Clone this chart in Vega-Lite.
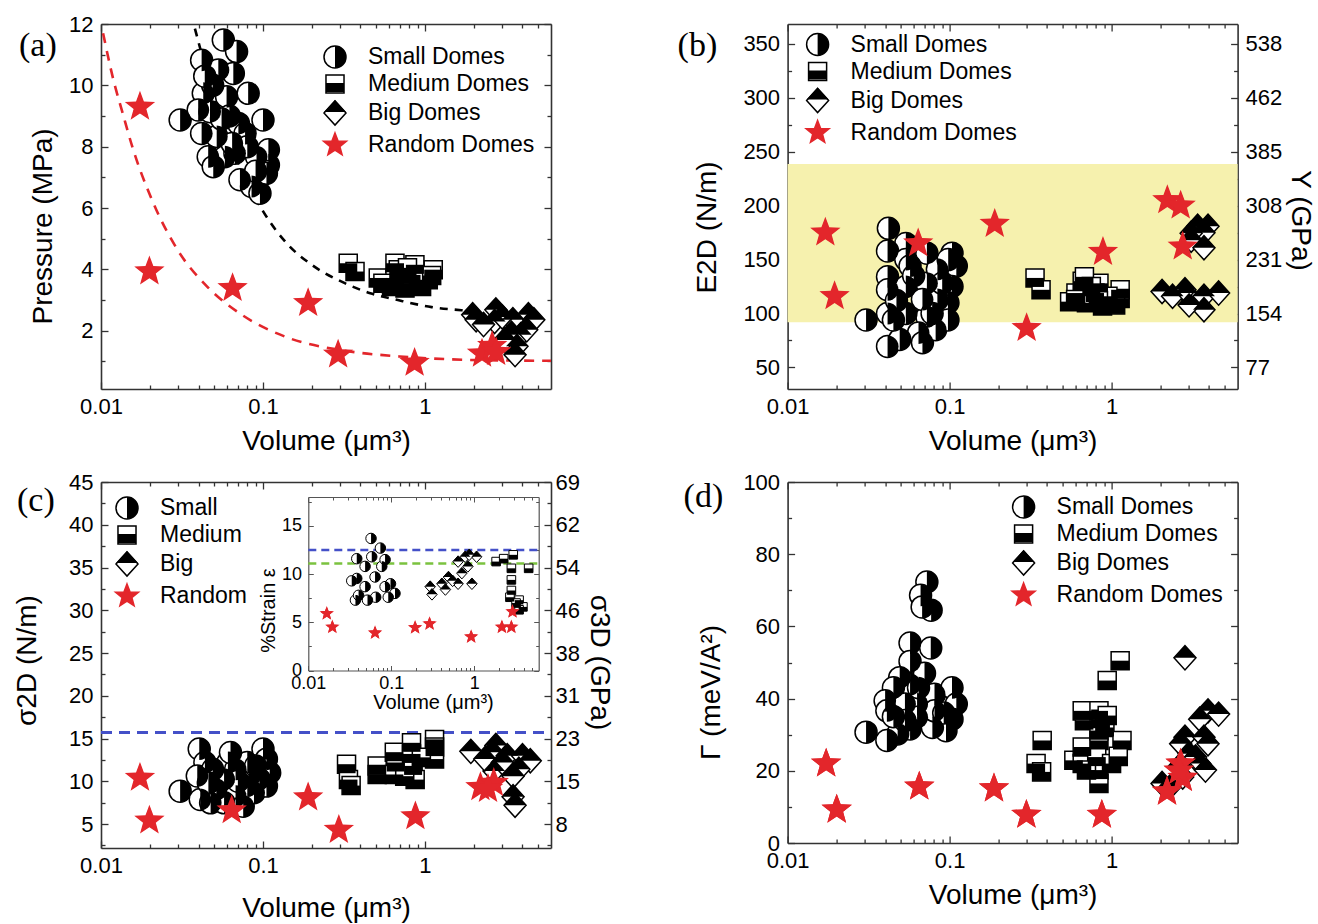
{
"$schema":"https://vega.github.io/schema/vega-lite/v6.json",
"background":"white",
"padding":{"left":13,"top":13,"right":5,"bottom":5},
"config":{
 "view":{"stroke":null},
 "font":"Liberation Sans",
 "axis":{"grid":false,"domainColor":"#333333","domainWidth":1.6,"tickColor":"#333333","tickWidth":1.3,"labelFont":"Liberation Sans","labelFontSize":22,"labelColor":"black","titleFont":"Liberation Sans","titleFontSize":28,"titleFontWeight":"normal","titleColor":"black","labelFlush":false,"labelOverlap":false},
 "legend":{"orient":"none","direction":"vertical","labelFont":"Liberation Sans","labelFontSize":23,"labelColor":"black","labelLimit":400,"symbolSize":484,"symbolStrokeWidth":1.5,"rowPadding":0,"labelOffset":21,"padding":0,"offset":0},
 "title":{"font":"Liberation Serif","fontSize":34,"fontWeight":"normal","anchor":"start","frame":"group","offset":0,"color":"black"}
},
"datasets":{
"fit":[
{"curve":"domes","vol":0.038,"val":11.85},{"curve":"domes","vol":0.05,"val":9.6},{"curve":"domes","vol":0.07,"val":7.5},{"curve":"domes","vol":0.1,"val":5.9},{"curve":"domes","vol":0.143,"val":4.8},{"curve":"domes","vol":0.2,"val":4.15},{"curve":"domes","vol":0.32,"val":3.55},{"curve":"domes","vol":0.46,"val":3.22},{"curve":"domes","vol":0.68,"val":3.0},{"curve":"domes","vol":1.1,"val":2.77},{"curve":"domes","vol":1.68,"val":2.67},{"curve":"domes","vol":1.95,"val":2.64},
{"curve":"random","vol":0.0103,"val":11.7},{"curve":"random","vol":0.0119,"val":10.2},{"curve":"random","vol":0.0136,"val":9.1},{"curve":"random","vol":0.0156,"val":8.0},{"curve":"random","vol":0.0205,"val":6.3},{"curve":"random","vol":0.03,"val":4.6},{"curve":"random","vol":0.046,"val":3.4},{"curve":"random","vol":0.075,"val":2.5},{"curve":"random","vol":0.143,"val":1.77},{"curve":"random","vol":0.31,"val":1.36},{"curve":"random","vol":0.7,"val":1.16},{"curve":"random","vol":1.4,"val":1.07},{"curve":"random","vol":3,"val":1.03},{"curve":"random","vol":6,"val":1.02}
],
"band":[{"lo":91.8,"hi":238.7,"from":0.01,"to":6}],
"refs":[{"which":"sigma","val":15.7,"from":0.01,"to":6},{"which":"blue","val":12.5,"from":0.01,"to":6},{"which":"green","val":11.1,"from":0.01,"to":6}],
"a":[
{"type":"Small Domes","vol":0.0569,"val":11.48},{"type":"Small Domes","vol":0.0687,"val":11.1},{"type":"Small Domes","vol":0.0418,"val":10.82},{"type":"Small Domes","vol":0.053,"val":10.5},{"type":"Small Domes","vol":0.0656,"val":10.39},{"type":"Small Domes","vol":0.0428,"val":9.74},{"type":"Small Domes","vol":0.0596,"val":9.63},{"type":"Small Domes","vol":0.081,"val":9.74},{"type":"Small Domes","vol":0.0308,"val":8.87},{"type":"Small Domes","vol":0.0398,"val":9.2},{"type":"Small Domes","vol":0.0471,"val":9.14},{"type":"Small Domes","vol":0.0705,"val":8.76},{"type":"Small Domes","vol":0.1,"val":8.87},{"type":"Small Domes","vol":0.0418,"val":8.43},{"type":"Small Domes","vol":0.0518,"val":8.33},{"type":"Small Domes","vol":0.0775,"val":8.43},{"type":"Small Domes","vol":0.0459,"val":7.67},{"type":"Small Domes","vol":0.0582,"val":7.67},{"type":"Small Domes","vol":0.0671,"val":7.79},{"type":"Small Domes","vol":0.0912,"val":7.67},{"type":"Small Domes","vol":0.0721,"val":6.92},{"type":"Small Domes","vol":0.085,"val":6.7},{"type":"Small Domes","vol":0.0958,"val":6.48},{"type":"Small Domes","vol":0.108,"val":7.4},{"type":"Small Domes","vol":0.0493,"val":7.35},{"type":"Small Domes","vol":0.105,"val":7.13},{"type":"Small Domes","vol":0.108,"val":7.9},{"type":"Small Domes","vol":0.0489,"val":10.0},{"type":"Small Domes","vol":0.062,"val":9.0},{"type":"Small Domes","vol":0.0437,"val":10.3},{"type":"Small Domes","vol":0.0645,"val":8.1},{"type":"Small Domes","vol":0.0555,"val":8.9},{"type":"Small Domes","vol":0.08,"val":8.0},{"type":"Small Domes","vol":0.09,"val":7.2},
{"type":"Medium Domes","vol":0.336,"val":4.2},{"type":"Medium Domes","vol":0.37,"val":3.93},{"type":"Medium Domes","vol":0.515,"val":3.72},{"type":"Medium Domes","vol":0.653,"val":4.2},{"type":"Medium Domes","vol":0.684,"val":3.99},{"type":"Medium Domes","vol":0.653,"val":3.72},{"type":"Medium Domes","vol":0.867,"val":4.15},{"type":"Medium Domes","vol":0.826,"val":3.82},{"type":"Medium Domes","vol":1.125,"val":3.99},{"type":"Medium Domes","vol":1.048,"val":3.66},{"type":"Medium Domes","vol":0.622,"val":3.44},{"type":"Medium Domes","vol":0.753,"val":3.39},{"type":"Medium Domes","vol":0.953,"val":3.44},{"type":"Medium Domes","vol":0.55,"val":3.55},{"type":"Medium Domes","vol":0.78,"val":4.05},{"type":"Medium Domes","vol":0.9,"val":3.6},{"type":"Medium Domes","vol":1.1,"val":3.8},{"type":"Medium Domes","vol":0.72,"val":3.55},
{"type":"Big Domes","vol":1.97,"val":2.52},{"type":"Big Domes","vol":2.74,"val":2.68},{"type":"Big Domes","vol":2.69,"val":2.3},{"type":"Big Domes","vol":4.35,"val":2.52},{"type":"Big Domes","vol":3.49,"val":2.36},{"type":"Big Domes","vol":3.42,"val":1.92},{"type":"Big Domes","vol":3.9,"val":1.87},{"type":"Big Domes","vol":3.7,"val":1.49},{"type":"Big Domes","vol":3.6,"val":1.22},{"type":"Big Domes","vol":2.07,"val":2.36},{"type":"Big Domes","vol":2.3,"val":2.2},{"type":"Big Domes","vol":4.7,"val":2.36},{"type":"Big Domes","vol":3.1,"val":1.7},{"type":"Big Domes","vol":4.25,"val":2.03},{"type":"Big Domes","vol":3.0,"val":2.45},
{"type":"Random Domes","vol":0.0174,"val":9.3},{"type":"Random Domes","vol":0.0199,"val":3.93},{"type":"Random Domes","vol":0.0649,"val":3.39},{"type":"Random Domes","vol":0.19,"val":2.9},{"type":"Random Domes","vol":0.291,"val":1.22},{"type":"Random Domes","vol":0.863,"val":0.95},{"type":"Random Domes","vol":2.25,"val":1.25},{"type":"Random Domes","vol":2.6,"val":1.5},{"type":"Random Domes","vol":2.75,"val":1.3}
],
"b":[
{"type":"Small Domes","vol":0.0419,"val":179},{"type":"Small Domes","vol":0.0537,"val":165},{"type":"Small Domes","vol":0.0414,"val":158},{"type":"Small Domes","vol":0.0414,"val":134},{"type":"Small Domes","vol":0.0414,"val":122},{"type":"Small Domes","vol":0.0537,"val":150},{"type":"Small Domes","vol":0.0537,"val":125},{"type":"Small Domes","vol":0.0724,"val":156},{"type":"Small Domes","vol":0.1035,"val":156},{"type":"Small Domes","vol":0.11,"val":144},{"type":"Small Domes","vol":0.1035,"val":125},{"type":"Small Domes","vol":0.0977,"val":110},{"type":"Small Domes","vol":0.0724,"val":128},{"type":"Small Domes","vol":0.0724,"val":97},{"type":"Small Domes","vol":0.0643,"val":82},{"type":"Small Domes","vol":0.068,"val":73},{"type":"Small Domes","vol":0.0414,"val":69.5},{"type":"Small Domes","vol":0.0492,"val":76},{"type":"Small Domes","vol":0.0305,"val":94},{"type":"Small Domes","vol":0.0414,"val":100},{"type":"Small Domes","vol":0.0537,"val":100},{"type":"Small Domes","vol":0.068,"val":113},{"type":"Small Domes","vol":0.0841,"val":113},{"type":"Small Domes","vol":0.082,"val":85},{"type":"Small Domes","vol":0.057,"val":144},{"type":"Small Domes","vol":0.0841,"val":141},{"type":"Small Domes","vol":0.045,"val":94},{"type":"Small Domes","vol":0.0977,"val":94},{"type":"Small Domes","vol":0.09,"val":128},{"type":"Small Domes","vol":0.098,"val":150},{"type":"Small Domes","vol":0.047,"val":112},{"type":"Small Domes","vol":0.06,"val":135},{"type":"Small Domes","vol":0.078,"val":100},
{"type":"Medium Domes","vol":0.337,"val":133},{"type":"Medium Domes","vol":0.367,"val":122},{"type":"Medium Domes","vol":0.603,"val":119},{"type":"Medium Domes","vol":0.659,"val":130},{"type":"Medium Domes","vol":0.836,"val":128},{"type":"Medium Domes","vol":0.79,"val":119},{"type":"Medium Domes","vol":1.13,"val":122},{"type":"Medium Domes","vol":1.13,"val":114},{"type":"Medium Domes","vol":0.7,"val":110},{"type":"Medium Domes","vol":0.88,"val":107},{"type":"Medium Domes","vol":1.06,"val":108},{"type":"Medium Domes","vol":0.551,"val":111},{"type":"Medium Domes","vol":0.68,"val":134},{"type":"Medium Domes","vol":0.75,"val":125},{"type":"Medium Domes","vol":0.95,"val":116},{"type":"Medium Domes","vol":0.6,"val":113},{"type":"Medium Domes","vol":0.83,"val":112},
{"type":"Big Domes","vol":2.05,"val":120.5},{"type":"Big Domes","vol":2.9,"val":119},{"type":"Big Domes","vol":3.72,"val":116},{"type":"Big Domes","vol":4.58,"val":119},{"type":"Big Domes","vol":3.72,"val":103.5},{"type":"Big Domes","vol":3.01,"val":108},{"type":"Big Domes","vol":2.38,"val":116},{"type":"Big Domes","vol":3.4,"val":181},{"type":"Big Domes","vol":3.94,"val":181},{"type":"Big Domes","vol":3.72,"val":175},{"type":"Big Domes","vol":3.1,"val":174.5},{"type":"Big Domes","vol":3.1,"val":168},{"type":"Big Domes","vol":3.72,"val":161},{"type":"Big Domes","vol":2.84,"val":122},
{"type":"Random Domes","vol":0.0171,"val":175},{"type":"Random Domes","vol":0.0195,"val":116},{"type":"Random Domes","vol":0.064,"val":165},{"type":"Random Domes","vol":0.19,"val":183},{"type":"Random Domes","vol":0.299,"val":86.5},{"type":"Random Domes","vol":0.885,"val":157},{"type":"Random Domes","vol":2.21,"val":205},{"type":"Random Domes","vol":2.67,"val":200},{"type":"Random Domes","vol":2.75,"val":162}
],
"c":[
{"type":"Small","vol":0.0308,"val":8.85},{"type":"Small","vol":0.0404,"val":13.77},{"type":"Small","vol":0.0438,"val":12.2},{"type":"Small","vol":0.0393,"val":10.62},{"type":"Small","vol":0.041,"val":7.87},{"type":"Small","vol":0.0475,"val":7.48},{"type":"Small","vol":0.0515,"val":9.05},{"type":"Small","vol":0.0607,"val":12.2},{"type":"Small","vol":0.0575,"val":10.23},{"type":"Small","vol":0.0677,"val":11.4},{"type":"Small","vol":0.08,"val":12.2},{"type":"Small","vol":0.1,"val":13.77},{"type":"Small","vol":0.105,"val":12.59},{"type":"Small","vol":0.11,"val":11.0},{"type":"Small","vol":0.095,"val":10.23},{"type":"Small","vol":0.08,"val":9.44},{"type":"Small","vol":0.0677,"val":8.26},{"type":"Small","vol":0.0575,"val":7.48},{"type":"Small","vol":0.0755,"val":7.08},{"type":"Small","vol":0.088,"val":8.66},{"type":"Small","vol":0.105,"val":9.44},{"type":"Small","vol":0.0489,"val":11.4},{"type":"Small","vol":0.063,"val":13.37},{"type":"Small","vol":0.082,"val":10.62},{"type":"Small","vol":0.046,"val":9.8},{"type":"Small","vol":0.07,"val":10.0},{"type":"Small","vol":0.09,"val":11.8},
{"type":"Medium","vol":0.328,"val":12.0},{"type":"Medium","vol":0.337,"val":10.2},{"type":"Medium","vol":0.35,"val":9.5},{"type":"Medium","vol":0.507,"val":11.8},{"type":"Medium","vol":0.507,"val":10.8},{"type":"Medium","vol":0.647,"val":13.4},{"type":"Medium","vol":0.66,"val":12.2},{"type":"Medium","vol":0.647,"val":10.8},{"type":"Medium","vol":0.826,"val":14.5},{"type":"Medium","vol":0.826,"val":13.2},{"type":"Medium","vol":0.845,"val":11.8},{"type":"Medium","vol":0.87,"val":10.2},{"type":"Medium","vol":1.146,"val":14.9},{"type":"Medium","vol":1.146,"val":14.0},{"type":"Medium","vol":1.146,"val":12.6},{"type":"Medium","vol":0.75,"val":10.6},{"type":"Medium","vol":0.95,"val":12.8},
{"type":"Big","vol":1.92,"val":13.5},{"type":"Big","vol":2.74,"val":14.2},{"type":"Big","vol":2.6,"val":13.4},{"type":"Big","vol":3.22,"val":13.0},{"type":"Big","vol":4.0,"val":13.0},{"type":"Big","vol":4.47,"val":12.4},{"type":"Big","vol":3.8,"val":11.4},{"type":"Big","vol":3.5,"val":10.6},{"type":"Big","vol":2.67,"val":11.2},{"type":"Big","vol":3.5,"val":8.2},{"type":"Big","vol":3.6,"val":7.2},{"type":"Big","vol":2.34,"val":12.6},{"type":"Big","vol":3.0,"val":12.2},
{"type":"Random","vol":0.0174,"val":10.4},{"type":"Random","vol":0.0199,"val":5.4},{"type":"Random","vol":0.0641,"val":6.6},{"type":"Random","vol":0.19,"val":8.1},{"type":"Random","vol":0.294,"val":4.3},{"type":"Random","vol":0.873,"val":5.9},{"type":"Random","vol":2.2,"val":9.3},{"type":"Random","vol":2.66,"val":9.8},{"type":"Random","vol":2.45,"val":9.1}
],
"ins":[
{"type":"Small","vol":0.0571,"val":13.7},{"type":"Small","vol":0.0384,"val":11.6},{"type":"Small","vol":0.0384,"val":9.55},{"type":"Small","vol":0.037,"val":7.3},{"type":"Small","vol":0.0334,"val":9.3},{"type":"Small","vol":0.0484,"val":10.8},{"type":"Small","vol":0.0484,"val":8.7},{"type":"Small","vol":0.0582,"val":11.8},{"type":"Small","vol":0.0638,"val":9.7},{"type":"Small","vol":0.065,"val":7.6},{"type":"Small","vol":0.0769,"val":10.8},{"type":"Small","vol":0.0843,"val":8.7},{"type":"Small","vol":0.098,"val":9.0},{"type":"Small","vol":0.111,"val":8.0},{"type":"Small","vol":0.092,"val":7.6},{"type":"Small","vol":0.0404,"val":7.8},{"type":"Small","vol":0.0517,"val":7.3},{"type":"Small","vol":0.074,"val":12.7},{"type":"Small","vol":0.0843,"val":11.5},
{"type":"Medium","vol":1.84,"val":11.3},{"type":"Medium","vol":2.27,"val":11.6},{"type":"Medium","vol":2.96,"val":12.0},{"type":"Medium","vol":2.81,"val":10.6},{"type":"Medium","vol":2.81,"val":9.4},{"type":"Medium","vol":2.81,"val":8.3},{"type":"Medium","vol":2.7,"val":7.6},{"type":"Medium","vol":3.48,"val":7.3},{"type":"Medium","vol":3.87,"val":6.6},{"type":"Medium","vol":4.54,"val":10.6},{"type":"Medium","vol":3.48,"val":6.3},{"type":"Medium","vol":3.2,"val":7.0},
{"type":"Big","vol":0.295,"val":8.7},{"type":"Big","vol":0.31,"val":7.9},{"type":"Big","vol":0.408,"val":9.0},{"type":"Big","vol":0.49,"val":9.7},{"type":"Big","vol":0.711,"val":10.1},{"type":"Big","vol":0.78,"val":11.8},{"type":"Big","vol":0.84,"val":10.8},{"type":"Big","vol":0.64,"val":9.0},{"type":"Big","vol":0.94,"val":9.0},{"type":"Big","vol":1.07,"val":11.8},{"type":"Big","vol":0.87,"val":12.0},{"type":"Big","vol":0.45,"val":8.4},{"type":"Big","vol":0.64,"val":11.3},{"type":"Big","vol":0.55,"val":9.3},
{"type":"Random","vol":0.0167,"val":5.9},{"type":"Random","vol":0.0195,"val":4.5},{"type":"Random","vol":0.0638,"val":3.9},{"type":"Random","vol":0.194,"val":4.45},{"type":"Random","vol":0.29,"val":4.85},{"type":"Random","vol":0.92,"val":3.5},{"type":"Random","vol":2.16,"val":4.5},{"type":"Random","vol":2.81,"val":4.5},{"type":"Random","vol":2.9,"val":6.1}
],
"d":[
{"type":"Small Domes","vol":0.0724,"val":72.3},{"type":"Small Domes","vol":0.0662,"val":68.6},{"type":"Small Domes","vol":0.0769,"val":64.5},{"type":"Small Domes","vol":0.0677,"val":65.4},{"type":"Small Domes","vol":0.057,"val":55.4},{"type":"Small Domes","vol":0.0765,"val":54},{"type":"Small Domes","vol":0.057,"val":50.3},{"type":"Small Domes","vol":0.0492,"val":45.8},{"type":"Small Domes","vol":0.057,"val":43.9},{"type":"Small Domes","vol":0.045,"val":43},{"type":"Small Domes","vol":0.04,"val":39.4},{"type":"Small Domes","vol":0.041,"val":36.6},{"type":"Small Domes","vol":0.053,"val":38.5},{"type":"Small Domes","vol":0.063,"val":38.5},{"type":"Small Domes","vol":0.063,"val":34.8},{"type":"Small Domes","vol":0.0807,"val":41.2},{"type":"Small Domes","vol":0.1035,"val":43},{"type":"Small Domes","vol":0.11,"val":38.5},{"type":"Small Domes","vol":0.1035,"val":34.3},{"type":"Small Domes","vol":0.095,"val":31.1},{"type":"Small Domes","vol":0.0783,"val":32},{"type":"Small Domes","vol":0.057,"val":31.6},{"type":"Small Domes","vol":0.0478,"val":30.2},{"type":"Small Domes","vol":0.041,"val":28.4},{"type":"Small Domes","vol":0.0305,"val":30.7},{"type":"Small Domes","vol":0.053,"val":33.9},{"type":"Small Domes","vol":0.0807,"val":36.6},{"type":"Small Domes","vol":0.0643,"val":43},{"type":"Small Domes","vol":0.045,"val":35},{"type":"Small Domes","vol":0.07,"val":47},{"type":"Small Domes","vol":0.092,"val":36},
{"type":"Medium Domes","vol":0.373,"val":28.4},{"type":"Medium Domes","vol":0.342,"val":22},{"type":"Medium Domes","vol":0.37,"val":19.7},{"type":"Medium Domes","vol":0.585,"val":22.9},{"type":"Medium Domes","vol":0.659,"val":22},{"type":"Medium Domes","vol":0.659,"val":26.6},{"type":"Medium Domes","vol":0.68,"val":33.9},{"type":"Medium Domes","vol":0.659,"val":36.6},{"type":"Medium Domes","vol":0.836,"val":36.6},{"type":"Medium Domes","vol":0.86,"val":34.3},{"type":"Medium Domes","vol":0.836,"val":31.1},{"type":"Medium Domes","vol":0.836,"val":28.4},{"type":"Medium Domes","vol":0.81,"val":23.8},{"type":"Medium Domes","vol":0.836,"val":20.2},{"type":"Medium Domes","vol":0.836,"val":16.5},{"type":"Medium Domes","vol":0.91,"val":32},{"type":"Medium Domes","vol":0.94,"val":45},{"type":"Medium Domes","vol":1.13,"val":50.5},{"type":"Medium Domes","vol":1.16,"val":28.4},{"type":"Medium Domes","vol":1.0,"val":22},{"type":"Medium Domes","vol":0.7,"val":20.2},{"type":"Medium Domes","vol":0.94,"val":35.3},{"type":"Medium Domes","vol":1.1,"val":24},
{"type":"Big Domes","vol":2.84,"val":51.3},{"type":"Big Domes","vol":3.94,"val":36.6},{"type":"Big Domes","vol":4.58,"val":35.7},{"type":"Big Domes","vol":3.5,"val":34.3},{"type":"Big Domes","vol":2.84,"val":29.3},{"type":"Big Domes","vol":2.67,"val":27.5},{"type":"Big Domes","vol":3.72,"val":29.3},{"type":"Big Domes","vol":3.94,"val":27.5},{"type":"Big Domes","vol":3.01,"val":24.7},{"type":"Big Domes","vol":2.6,"val":21.1},{"type":"Big Domes","vol":3.5,"val":22},{"type":"Big Domes","vol":3.8,"val":20.2},{"type":"Big Domes","vol":2.05,"val":16.5},{"type":"Big Domes","vol":2.3,"val":15.6},{"type":"Big Domes","vol":2.75,"val":18.3},{"type":"Big Domes","vol":3.3,"val":23.8},
{"type":"Random Domes","vol":0.0173,"val":22},{"type":"Random Domes","vol":0.0201,"val":9.2},{"type":"Random Domes","vol":0.065,"val":15.6},{"type":"Random Domes","vol":0.188,"val":15.1},{"type":"Random Domes","vol":0.298,"val":7.8},{"type":"Random Domes","vol":0.871,"val":7.8},{"type":"Random Domes","vol":2.2,"val":14.2},{"type":"Random Domes","vol":2.67,"val":22},{"type":"Random Domes","vol":2.75,"val":18},{"type":"Random Domes","vol":2.6,"val":20}
]
},
"columns":2,
"bounds":"flush",
"spacing":{"row":93,"column":236.6},
"concat":[
{
 "width":450,"height":365,
 "title":{"text":"(a)","dx":-82,"dy":54},
 "layer":[
  {"data":{"name":"fit"},"transform":[{"filter":"datum.curve === 'domes'"}],
   "mark":{"type":"line","color":"black","strokeWidth":2.6,"strokeDash":[8,7],"interpolate":"monotone","clip":true},
   "encoding":{
    "x":{"field":"vol","type":"quantitative","scale":{"type":"log","domain":[0.01,6],"nice":false},"axis":{"orient":"bottom","values":[0.01,0.1,1],"format":"~g","tickSize":-7,"labelPadding":14,"title":"Volume (μm³)","titlePadding":10}},
    "y":{"field":"val","type":"quantitative","scale":{"domain":[0.1,12],"nice":false,"zero":false},"axis":{"orient":"left","values":[2,4,6,8,10,12],"tickSize":-7,"labelPadding":15,"title":"Pressure (MPa)","titlePadding":11,"titleY":202}}}},
  {"data":{"name":"fit"},"transform":[{"filter":"datum.curve === 'random'"}],
   "mark":{"type":"line","color":"#e3262b","strokeWidth":2.6,"strokeDash":[10,8],"interpolate":"monotone","clip":true},
   "encoding":{
    "x":{"field":"vol","type":"quantitative","scale":{"type":"log","domain":[0.01,6],"nice":false},"axis":{"orient":"bottom","values":[0.02,0.03,0.04,0.05,0.06,0.07,0.08,0.09,0.2,0.3,0.4,0.5,0.6,0.7,0.8,0.9,2,3,4,5],"labels":false,"tickSize":-4,"domain":false,"title":null}},
    "y":{"field":"val","type":"quantitative","scale":{"domain":[0.1,12],"nice":false,"zero":false},"axis":{"orient":"left","values":[1,3,5,7,9,11],"labels":false,"tickSize":-4,"domain":false,"title":null}}}},
  {"data":{"name":"a"},
   "mark":{"type":"point","filled":true,"size":484,"strokeWidth":1.5,"opacity":1},
   "encoding":{
    "x":{"field":"vol","type":"quantitative","scale":{"type":"log","domain":[0.01,6],"nice":false},"axis":{"orient":"top","values":[0.01,0.1,1],"labels":false,"tickSize":-7,"title":null}},
    "y":{"field":"val","type":"quantitative","scale":{"domain":[0.1,12],"nice":false,"zero":false},"axis":{"orient":"right","values":[2,4,6,8,10,12],"labels":false,"tickSize":-7,"title":null}},
    "shape":{"field":"type","type":"nominal","scale":{"domain":["Small Domes","Medium Domes","Big Domes","Random Domes"],"range":["circle","M-0.82,-0.82L0.82,-0.82L0.82,0.82L-0.82,0.82Z","M-1,0L0,-1.1L1,0L0,1.1Z","M0,-1.1L0.271,-0.374L1.046,-0.34L0.439,0.143L0.647,0.89L0,0.462L-0.647,0.89L-0.439,0.143L-1.046,-0.34L-0.271,-0.374Z"]},"legend":{"legendX":222,"legendY":21,"title":null}},
    "fill":{"field":"type","type":"nominal","scale":{"domain":["Small Domes","Medium Domes","Big Domes","Random Domes"],"range":["white","white","white","#e3262b"]},"legend":{"legendX":222,"legendY":21,"title":null}},
    "stroke":{"field":"type","type":"nominal","scale":{"domain":["Small Domes","Medium Domes","Big Domes","Random Domes"],"range":["black","black","black","#e3262b"]},"legend":{"legendX":222,"legendY":21,"title":null}}}},
  {"data":{"name":"a"},"transform":[{"filter":"datum.type !== 'Random Domes'"}],
   "mark":{"type":"point","filled":true,"size":484,"color":"black","opacity":1},
   "encoding":{
    "x":{"field":"vol","type":"quantitative","scale":{"type":"log","domain":[0.01,6],"nice":false},"axis":{"orient":"top","values":[0.02,0.03,0.04,0.05,0.06,0.07,0.08,0.09,0.2,0.3,0.4,0.5,0.6,0.7,0.8,0.9,2,3,4,5],"labels":false,"tickSize":-4,"domain":false,"title":null}},
    "y":{"field":"val","type":"quantitative","scale":{"domain":[0.1,12],"nice":false,"zero":false},"axis":{"orient":"right","values":[1,3,5,7,9,11],"labels":false,"tickSize":-4,"domain":false,"title":null}},
    "shape":{"field":"type","type":"nominal","scale":{"domain":["Small Domes","Medium Domes","Big Domes"],"range":["M0,-1L0.259,-0.966L0.5,-0.866L0.707,-0.707L0.866,-0.5L0.966,-0.259L1,0L0.966,0.259L0.866,0.5L0.707,0.707L0.5,0.866L0.259,0.966L0,1Z","M-0.82,0L0.82,0L0.82,0.82L-0.82,0.82Z","M-1,0L0,-1.1L1,0Z"]},"legend":{"legendX":222,"legendY":21,"title":null,"symbolFillColor":"black","symbolStrokeColor":"transparent","labelOpacity":0}}}},
  {"data":{"name":"a"},"transform":[{"filter":"datum.type === 'Random Domes'"}],
   "mark":{"type":"point","filled":true,"size":484,"shape":"M0,-1.45L0.358,-0.493L1.379,-0.449L0.579,0.189L0.853,1.174L0,0.609L-0.853,1.174L-0.579,0.189L-1.379,-0.449L-0.358,-0.493Z","color":"#e3262b","opacity":1},
   "encoding":{
    "x":{"field":"vol","type":"quantitative","scale":{"type":"log","domain":[0.01,6],"nice":false},"axis":null},
    "y":{"field":"val","type":"quantitative","scale":{"domain":[0.1,12],"nice":false,"zero":false},"axis":null}}}
 ],
 "resolve":{"scale":{"shape":"independent","fill":"independent","stroke":"independent"},"legend":{"shape":"independent","fill":"independent","stroke":"independent"},"axis":{"x":"independent","y":"independent"}}
},
{
 "width":450,"height":365,
 "title":{"text":"(b)","dx":-110,"dy":44},
 "layer":[
  {"data":{"name":"band"},
   "mark":{"type":"rect","color":"#f6f1ae","opacity":1},
   "encoding":{
    "x":{"field":"from","type":"quantitative","scale":{"type":"log","domain":[0.01,6],"nice":false},"axis":{"orient":"bottom","values":[0.01,0.1,1],"format":"~g","tickSize":-7,"labelPadding":14,"title":"Volume (μm³)","titlePadding":10}},
    "x2":{"field":"to"},
    "y":{"field":"lo","type":"quantitative","scale":{"domain":[30,368.5],"nice":false,"zero":false},"axis":{"orient":"left","values":[50,100,150,200,250,300,350],"tickSize":-7,"labelPadding":15,"title":"E2D (N/m)","titlePadding":21,"titleY":203}},
    "y2":{"field":"hi"}}},
  {"data":{"name":"b"},
   "mark":{"type":"point","filled":true,"size":484,"strokeWidth":1.5,"opacity":1},
   "encoding":{
    "x":{"field":"vol","type":"quantitative","scale":{"type":"log","domain":[0.01,6],"nice":false},"axis":{"orient":"bottom","values":[0.02,0.03,0.04,0.05,0.06,0.07,0.08,0.09,0.2,0.3,0.4,0.5,0.6,0.7,0.8,0.9,2,3,4,5],"labels":false,"tickSize":-4,"domain":false,"title":null}},
    "y":{"field":"val","type":"quantitative","scale":{"domain":[30,368.5],"nice":false,"zero":false},"axis":{"orient":"left","values":[75,125,175,225,275,325],"labels":false,"tickSize":-4,"domain":false,"title":null}},
    "shape":{"field":"type","type":"nominal","scale":{"domain":["Small Domes","Medium Domes","Big Domes","Random Domes"],"range":["circle","M-0.82,-0.82L0.82,-0.82L0.82,0.82L-0.82,0.82Z","M-1,0L0,-1.1L1,0L0,1.1Z","M0,-1.1L0.271,-0.374L1.046,-0.34L0.439,0.143L0.647,0.89L0,0.462L-0.647,0.89L-0.439,0.143L-1.046,-0.34L-0.271,-0.374Z"]},"legend":{"legendX":18,"legendY":8.5,"title":null}},
    "fill":{"field":"type","type":"nominal","scale":{"domain":["Small Domes","Medium Domes","Big Domes","Random Domes"],"range":["white","white","white","#e3262b"]},"legend":{"legendX":18,"legendY":8.5,"title":null}},
    "stroke":{"field":"type","type":"nominal","scale":{"domain":["Small Domes","Medium Domes","Big Domes","Random Domes"],"range":["black","black","black","#e3262b"]},"legend":{"legendX":18,"legendY":8.5,"title":null}}}},
  {"data":{"name":"b"},"transform":[{"filter":"datum.type !== 'Random Domes'"}],
   "mark":{"type":"point","filled":true,"size":484,"color":"black","opacity":1},
   "encoding":{
    "x":{"field":"vol","type":"quantitative","scale":{"type":"log","domain":[0.01,6],"nice":false},"axis":{"orient":"top","values":[0.01,0.1,1],"labels":false,"tickSize":-7,"title":null}},
    "y":{"field":"val","type":"quantitative","scale":{"domain":[30,368.5],"nice":false,"zero":false},"axis":{"orient":"right","values":[50,100,150,200,250,300,350],"tickSize":-7,"labelPadding":14.4,"labelExpr":"format(datum.value*1.5385,'.0f')","title":"Y (GPa)","titlePadding":4,"titleY":196}},
    "shape":{"field":"type","type":"nominal","scale":{"domain":["Small Domes","Medium Domes","Big Domes"],"range":["M0,-1L0.259,-0.966L0.5,-0.866L0.707,-0.707L0.866,-0.5L0.966,-0.259L1,0L0.966,0.259L0.866,0.5L0.707,0.707L0.5,0.866L0.259,0.966L0,1Z","M-0.82,0L0.82,0L0.82,0.82L-0.82,0.82Z","M-1,0L0,-1.1L1,0Z"]},"legend":{"legendX":18,"legendY":8.5,"title":null,"symbolFillColor":"black","symbolStrokeColor":"transparent","labelOpacity":0}}}},
  {"data":{"name":"b"},"transform":[{"filter":"datum.type === 'Random Domes'"}],
   "mark":{"type":"point","filled":true,"size":484,"shape":"M0,-1.45L0.358,-0.493L1.379,-0.449L0.579,0.189L0.853,1.174L0,0.609L-0.853,1.174L-0.579,0.189L-1.379,-0.449L-0.358,-0.493Z","color":"#e3262b","opacity":1},
   "encoding":{
    "x":{"field":"vol","type":"quantitative","scale":{"type":"log","domain":[0.01,6],"nice":false},"axis":{"orient":"top","values":[0.02,0.03,0.04,0.05,0.06,0.07,0.08,0.09,0.2,0.3,0.4,0.5,0.6,0.7,0.8,0.9,2,3,4,5],"labels":false,"tickSize":-4,"domain":false,"title":null}},
    "y":{"field":"val","type":"quantitative","scale":{"domain":[30,368.5],"nice":false,"zero":false},"axis":{"orient":"right","values":[75,125,175,225,275,325],"labels":false,"tickSize":-4,"domain":false,"title":null}}}}
 ],
 "resolve":{"scale":{"shape":"independent","fill":"independent","stroke":"independent"},"legend":{"shape":"independent","fill":"independent","stroke":"independent"},"axis":{"x":"independent","y":"independent"}}
},
{
 "width":450,"height":366,
 "title":{"text":"(c)","dx":-84,"dy":51},
 "layer":[
  {
   "layer":[
    {"data":{"name":"refs"},"transform":[{"filter":"datum.which === 'sigma'"}],
     "mark":{"type":"rule","color":"#4450c8","strokeWidth":3,"strokeDash":[11,7]},
     "encoding":{
      "x":{"field":"from","type":"quantitative","scale":{"type":"log","domain":[0.01,6],"nice":false},"axis":{"orient":"bottom","values":[0.01,0.1,1],"format":"~g","tickSize":-7,"labelPadding":14,"title":"Volume (μm³)","titlePadding":18}},
      "x2":{"field":"to"},
      "y":{"field":"val","type":"quantitative","scale":{"domain":[2.2,45],"nice":false,"zero":false},"axis":{"orient":"left","values":[5,10,15,20,25,30,35,40,45],"tickSize":-7,"labelPadding":15,"title":"σ2D (N/m)","titlePadding":27,"titleY":178}}}},
    {"data":{"name":"c"},
     "mark":{"type":"point","filled":true,"size":484,"strokeWidth":1.5,"opacity":1},
     "encoding":{
      "x":{"field":"vol","type":"quantitative","scale":{"type":"log","domain":[0.01,6],"nice":false},"axis":{"orient":"bottom","values":[0.02,0.03,0.04,0.05,0.06,0.07,0.08,0.09,0.2,0.3,0.4,0.5,0.6,0.7,0.8,0.9,2,3,4,5],"labels":false,"tickSize":-4,"domain":false,"title":null}},
      "y":{"field":"val","type":"quantitative","scale":{"domain":[2.2,45],"nice":false,"zero":false},"axis":{"orient":"left","values":[2.5,7.5,12.5,17.5,22.5,27.5,32.5,37.5,42.5],"labels":false,"tickSize":-4,"domain":false,"title":null}},
      "shape":{"field":"type","type":"nominal","scale":{"domain":["Small","Medium","Big","Random"],"range":["circle","M-0.82,-0.82L0.82,-0.82L0.82,0.82L-0.82,0.82Z","M-1,0L0,-1.1L1,0L0,1.1Z","M0,-1.1L0.271,-0.374L1.046,-0.34L0.439,0.143L0.647,0.89L0,0.462L-0.647,0.89L-0.439,0.143L-1.046,-0.34L-0.271,-0.374Z"]},"legend":{"legendX":14,"legendY":14,"title":null}},
      "fill":{"field":"type","type":"nominal","scale":{"domain":["Small","Medium","Big","Random"],"range":["white","white","white","#e3262b"]},"legend":{"legendX":14,"legendY":14,"title":null}},
      "stroke":{"field":"type","type":"nominal","scale":{"domain":["Small","Medium","Big","Random"],"range":["black","black","black","#e3262b"]},"legend":{"legendX":14,"legendY":14,"title":null}}}},
    {"data":{"name":"c"},"transform":[{"filter":"datum.type !== 'Random'"}],
     "mark":{"type":"point","filled":true,"size":484,"color":"black","opacity":1},
     "encoding":{
      "x":{"field":"vol","type":"quantitative","scale":{"type":"log","domain":[0.01,6],"nice":false},"axis":{"orient":"top","values":[0.01,0.1,1],"labels":false,"tickSize":-7,"title":null}},
      "y":{"field":"val","type":"quantitative","scale":{"domain":[2.2,45],"nice":false,"zero":false},"axis":{"orient":"right","values":[5,10,15,20,25,30,35,40,45],"tickSize":-7,"labelPadding":11,"labelExpr":"format(datum.value*1.5385,'.0f')","title":"σ3D (GPa)","titlePadding":5,"titleY":180}},
      "shape":{"field":"type","type":"nominal","scale":{"domain":["Small","Medium","Big"],"range":["M0,-1L0.259,-0.966L0.5,-0.866L0.707,-0.707L0.866,-0.5L0.966,-0.259L1,0L0.966,0.259L0.866,0.5L0.707,0.707L0.5,0.866L0.259,0.966L0,1Z","M-0.82,0L0.82,0L0.82,0.82L-0.82,0.82Z","M-1,0L0,-1.1L1,0Z"]},"legend":{"legendX":14,"legendY":14,"title":null,"symbolFillColor":"black","symbolStrokeColor":"transparent","labelOpacity":0}}}},
    {"data":{"name":"c"},"transform":[{"filter":"datum.type === 'Random'"}],
     "mark":{"type":"point","filled":true,"size":484,"shape":"M0,-1.45L0.358,-0.493L1.379,-0.449L0.579,0.189L0.853,1.174L0,0.609L-0.853,1.174L-0.579,0.189L-1.379,-0.449L-0.358,-0.493Z","color":"#e3262b","opacity":1},
     "encoding":{
      "x":{"field":"vol","type":"quantitative","scale":{"type":"log","domain":[0.01,6],"nice":false},"axis":{"orient":"top","values":[0.02,0.03,0.04,0.05,0.06,0.07,0.08,0.09,0.2,0.3,0.4,0.5,0.6,0.7,0.8,0.9,2,3,4,5],"labels":false,"tickSize":-4,"domain":false,"title":null}},
      "y":{"field":"val","type":"quantitative","scale":{"domain":[2.2,45],"nice":false,"zero":false},"axis":{"orient":"right","values":[2.5,7.5,12.5,17.5,22.5,27.5,32.5,37.5,42.5],"labels":false,"tickSize":-4,"domain":false,"title":null}}}}
   ],
   "resolve":{"scale":{"shape":"independent","fill":"independent","stroke":"independent"},"legend":{"shape":"independent","fill":"independent","stroke":"independent"},"axis":{"x":"independent","y":"independent"}}
  },
  {
   "layer":[
    {"data":{"name":"refs"},"transform":[{"filter":"datum.which === 'blue'"}],
     "mark":{"type":"rule","color":"#4450c8","strokeWidth":2.5,"strokeDash":[8,5]},
     "encoding":{
      "x":{"field":"from","type":"quantitative","scale":{"type":"log","domain":[0.01,6],"nice":false,"range":[207.3,437.7]},"axis":{"orient":"bottom","offset":-177.5,"values":[0.01,0.1,1],"format":"~g","tickSize":-5,"labelFontSize":18,"labelPadding":8.6,"title":"Volume (μm³)","titleFontSize":20,"titlePadding":0,"titleX":332,"domainColor":"#555555","domainWidth":1.2,"tickColor":"#555555","tickWidth":1}},
      "x2":{"field":"to"},
      "y":{"field":"val","type":"quantitative","scale":{"domain":[0,18],"nice":false,"zero":false,"range":[188.5,15]},"axis":{"orient":"left","offset":-207.3,"values":[0,5,10,15],"tickSize":-5,"labelFontSize":18,"labelPadding":11.7,"title":"%Strain ε","titleFontSize":20,"titlePadding":3,"titleY":128,"domainColor":"#555555","domainWidth":1.2,"tickColor":"#555555","tickWidth":1}}}},
    {"data":{"name":"refs"},"transform":[{"filter":"datum.which === 'green'"}],
     "mark":{"type":"rule","color":"#7bc23f","strokeWidth":2.5,"strokeDash":[8,5]},
     "encoding":{
      "x":{"field":"from","type":"quantitative","scale":{"type":"log","domain":[0.01,6],"nice":false,"range":[207.3,437.7]},"axis":{"orient":"bottom","offset":-177.5,"values":[0.02,0.03,0.04,0.05,0.06,0.07,0.08,0.09,0.2,0.3,0.4,0.5,0.6,0.7,0.8,0.9,2,3,4,5],"labels":false,"tickSize":-3,"domain":false,"title":null,"tickColor":"#555555","tickWidth":1}},
      "x2":{"field":"to"},
      "y":{"field":"val","type":"quantitative","scale":{"domain":[0,18],"nice":false,"zero":false,"range":[188.5,15]},"axis":{"orient":"left","offset":-207.3,"values":[2.5,7.5,12.5,17.5],"labels":false,"tickSize":-3,"domain":false,"title":null,"tickColor":"#555555","tickWidth":1}}}},
    {"data":{"name":"ins"},
     "mark":{"type":"point","filled":true,"size":110,"strokeWidth":1,"opacity":1},
     "encoding":{
      "x":{"field":"vol","type":"quantitative","scale":{"type":"log","domain":[0.01,6],"nice":false,"range":[207.3,437.7]},"axis":{"orient":"top","offset":-15,"values":[0.01,0.1,1],"labels":false,"tickSize":-5,"title":null,"domainColor":"#555555","domainWidth":1.2,"tickColor":"#555555","tickWidth":1}},
      "y":{"field":"val","type":"quantitative","scale":{"domain":[0,18],"nice":false,"zero":false,"range":[188.5,15]},"axis":{"orient":"right","offset":-12.3,"values":[0,5,10,15],"labels":false,"tickSize":-5,"title":null,"domainColor":"#555555","domainWidth":1.2,"tickColor":"#555555","tickWidth":1}},
      "shape":{"field":"type","type":"nominal","scale":{"domain":["Small","Medium","Big","Random"],"range":["circle","M-0.82,-0.82L0.82,-0.82L0.82,0.82L-0.82,0.82Z","M-1,0L0,-1.1L1,0L0,1.1Z","M0,-1.1L0.271,-0.374L1.046,-0.34L0.439,0.143L0.647,0.89L0,0.462L-0.647,0.89L-0.439,0.143L-1.046,-0.34L-0.271,-0.374Z"]},"legend":null},
      "fill":{"field":"type","type":"nominal","scale":{"domain":["Small","Medium","Big","Random"],"range":["white","white","white","#e3262b"]},"legend":null},
      "stroke":{"field":"type","type":"nominal","scale":{"domain":["Small","Medium","Big","Random"],"range":["black","black","black","#e3262b"]},"legend":null}}},
    {"data":{"name":"ins"},"transform":[{"filter":"datum.type !== 'Random'"}],
     "mark":{"type":"point","filled":true,"size":110,"color":"black","opacity":1},
     "encoding":{
      "x":{"field":"vol","type":"quantitative","scale":{"type":"log","domain":[0.01,6],"nice":false,"range":[207.3,437.7]},"axis":{"orient":"top","offset":-15,"values":[0.02,0.03,0.04,0.05,0.06,0.07,0.08,0.09,0.2,0.3,0.4,0.5,0.6,0.7,0.8,0.9,2,3,4,5],"labels":false,"tickSize":-3,"domain":false,"title":null,"tickColor":"#555555","tickWidth":1}},
      "y":{"field":"val","type":"quantitative","scale":{"domain":[0,18],"nice":false,"zero":false,"range":[188.5,15]},"axis":{"orient":"right","offset":-12.3,"values":[2.5,7.5,12.5,17.5],"labels":false,"tickSize":-3,"domain":false,"title":null,"tickColor":"#555555","tickWidth":1}},
      "shape":{"field":"type","type":"nominal","scale":{"domain":["Small","Medium","Big"],"range":["M0,-1L0.259,-0.966L0.5,-0.866L0.707,-0.707L0.866,-0.5L0.966,-0.259L1,0L0.966,0.259L0.866,0.5L0.707,0.707L0.5,0.866L0.259,0.966L0,1Z","M-0.82,0L0.82,0L0.82,0.82L-0.82,0.82Z","M-1,0L0,-1.1L1,0Z"]},"legend":null}}},
    {"data":{"name":"ins"},"transform":[{"filter":"datum.type === 'Random'"}],
     "mark":{"type":"point","filled":true,"size":110,"shape":"M0,-1.45L0.358,-0.493L1.379,-0.449L0.579,0.189L0.853,1.174L0,0.609L-0.853,1.174L-0.579,0.189L-1.379,-0.449L-0.358,-0.493Z","color":"#e3262b","opacity":1},
     "encoding":{
      "x":{"field":"vol","type":"quantitative","scale":{"type":"log","domain":[0.01,6],"nice":false,"range":[207.3,437.7]},"axis":null},
      "y":{"field":"val","type":"quantitative","scale":{"domain":[0,18],"nice":false,"zero":false,"range":[188.5,15]},"axis":null}}}
   ],
   "resolve":{"scale":{"shape":"independent","fill":"independent","stroke":"independent"},"legend":{"shape":"independent","fill":"independent","stroke":"independent"},"axis":{"x":"independent","y":"independent"}}
  }
 ],
 "resolve":{"scale":{"x":"independent","y":"independent","shape":"independent","fill":"independent","stroke":"independent"},"legend":{"shape":"independent","fill":"independent","stroke":"independent"},"axis":{"x":"independent","y":"independent"}}
},
{
 "width":450,"height":361,
 "title":{"text":"(d)","dx":-104,"dy":47},
 "layer":[
  {"data":{"name":"d"},
   "mark":{"type":"point","filled":true,"size":484,"strokeWidth":1.5,"opacity":1},
   "encoding":{
    "x":{"field":"vol","type":"quantitative","scale":{"type":"log","domain":[0.01,6],"nice":false},"axis":{"orient":"bottom","values":[0.01,0.1,1],"format":"~g","tickSize":-7,"labelPadding":14,"title":"Volume (μm³)","titlePadding":10}},
    "y":{"field":"val","type":"quantitative","scale":{"domain":[0,100],"nice":false,"zero":false},"axis":{"orient":"left","values":[0,20,40,60,80,100],"tickSize":-7,"labelPadding":15,"title":"Γ (meV/A²)","titlePadding":17,"titleY":210}},
    "shape":{"field":"type","type":"nominal","scale":{"domain":["Small Domes","Medium Domes","Big Domes","Random Domes"],"range":["circle","M-0.82,-0.82L0.82,-0.82L0.82,0.82L-0.82,0.82Z","M-1,0L0,-1.1L1,0L0,1.1Z","M0,-1.1L0.271,-0.374L1.046,-0.34L0.439,0.143L0.647,0.89L0,0.462L-0.647,0.89L-0.439,0.143L-1.046,-0.34L-0.271,-0.374Z"]},"legend":{"legendX":224,"legendY":13,"title":null}},
    "fill":{"field":"type","type":"nominal","scale":{"domain":["Small Domes","Medium Domes","Big Domes","Random Domes"],"range":["white","white","white","#e3262b"]},"legend":{"legendX":224,"legendY":13,"title":null}},
    "stroke":{"field":"type","type":"nominal","scale":{"domain":["Small Domes","Medium Domes","Big Domes","Random Domes"],"range":["black","black","black","#e3262b"]},"legend":{"legendX":224,"legendY":13,"title":null}}}},
  {"data":{"name":"d"},"transform":[{"filter":"datum.type !== 'Random Domes'"}],
   "mark":{"type":"point","filled":true,"size":484,"color":"black","opacity":1},
   "encoding":{
    "x":{"field":"vol","type":"quantitative","scale":{"type":"log","domain":[0.01,6],"nice":false},"axis":{"orient":"bottom","values":[0.02,0.03,0.04,0.05,0.06,0.07,0.08,0.09,0.2,0.3,0.4,0.5,0.6,0.7,0.8,0.9,2,3,4,5],"labels":false,"tickSize":-4,"domain":false,"title":null}},
    "y":{"field":"val","type":"quantitative","scale":{"domain":[0,100],"nice":false,"zero":false},"axis":{"orient":"left","values":[10,30,50,70,90],"labels":false,"tickSize":-4,"domain":false,"title":null}},
    "shape":{"field":"type","type":"nominal","scale":{"domain":["Small Domes","Medium Domes","Big Domes"],"range":["M0,-1L0.259,-0.966L0.5,-0.866L0.707,-0.707L0.866,-0.5L0.966,-0.259L1,0L0.966,0.259L0.866,0.5L0.707,0.707L0.5,0.866L0.259,0.966L0,1Z","M-0.82,0L0.82,0L0.82,0.82L-0.82,0.82Z","M-1,0L0,-1.1L1,0Z"]},"legend":{"legendX":224,"legendY":13,"title":null,"symbolFillColor":"black","symbolStrokeColor":"transparent","labelOpacity":0}}}},
  {"data":{"name":"d"},"transform":[{"filter":"datum.type === 'Random Domes'"}],
   "mark":{"type":"point","filled":true,"size":484,"shape":"M0,-1.45L0.358,-0.493L1.379,-0.449L0.579,0.189L0.853,1.174L0,0.609L-0.853,1.174L-0.579,0.189L-1.379,-0.449L-0.358,-0.493Z","color":"#e3262b","opacity":1},
   "encoding":{
    "x":{"field":"vol","type":"quantitative","scale":{"type":"log","domain":[0.01,6],"nice":false},"axis":{"orient":"top","values":[0.01,0.1,1],"labels":false,"tickSize":-7,"title":null}},
    "y":{"field":"val","type":"quantitative","scale":{"domain":[0,100],"nice":false,"zero":false},"axis":{"orient":"right","values":[0,20,40,60,80,100],"labels":false,"tickSize":-7,"title":null}}}},
  {"data":{"name":"d"},"transform":[{"filter":"datum.type === 'Random Domes'"}],
   "mark":{"type":"point","filled":true,"size":484,"shape":"M0,-1.45L0.358,-0.493L1.379,-0.449L0.579,0.189L0.853,1.174L0,0.609L-0.853,1.174L-0.579,0.189L-1.379,-0.449L-0.358,-0.493Z","color":"#e3262b","opacity":1},
   "encoding":{
    "x":{"field":"vol","type":"quantitative","scale":{"type":"log","domain":[0.01,6],"nice":false},"axis":{"orient":"top","values":[0.02,0.03,0.04,0.05,0.06,0.07,0.08,0.09,0.2,0.3,0.4,0.5,0.6,0.7,0.8,0.9,2,3,4,5],"labels":false,"tickSize":-4,"domain":false,"title":null}},
    "y":{"field":"val","type":"quantitative","scale":{"domain":[0,100],"nice":false,"zero":false},"axis":{"orient":"right","values":[10,30,50,70,90],"labels":false,"tickSize":-4,"domain":false,"title":null}}}}
 ],
 "resolve":{"scale":{"shape":"independent","fill":"independent","stroke":"independent"},"legend":{"shape":"independent","fill":"independent","stroke":"independent"},"axis":{"x":"independent","y":"independent"}}
}
],
"resolve":{"scale":{"shape":"independent","fill":"independent","stroke":"independent"},"legend":{"shape":"independent","fill":"independent","stroke":"independent"}}
}
